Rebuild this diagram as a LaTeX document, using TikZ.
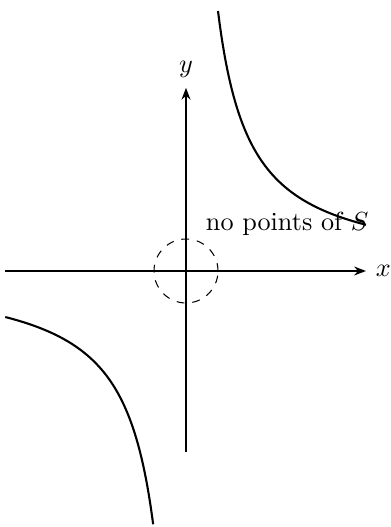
\documentclass[tikz,border=0pt]{standalone}
\usetikzlibrary{arrows.meta}
\tikzset{axis/.style={thick, -{Stealth[length=4.5pt]}},
  branch/.style={thick, samples=120, smooth}}

\begin{document}
\begin{tikzpicture}[x=0.537cm, y=0.537cm]
    % frame of the picture
    \useasboundingbox (-4.65,-6.4) rectangle (5.1,6.775);

    % axes
    \coordinate (O) at (0,0);
    \coordinate (xmin) at (-4.53,0);
    \coordinate (xmax) at (4.5,0);
    \coordinate (ymin) at (0,-4.53);
    \coordinate (ymax) at (0,4.58);
    \draw[axis] (xmin) -- (xmax) node[right] (xlab) {$x$};
    \draw[axis] (ymin) -- (ymax) node[above] (ylab) {$y$};

    % neighbourhood of the origin
    \draw[dashed] (O) circle (0.8);

    % the two branches of the hyperbola
    \draw[branch, domain=0.8:4.5] plot (\x, {5.2/\x});
    \draw[branch, domain=-4.52:-0.82] plot (\x, {5.2/\x});

    \node (note) at (2.53,1.18) {no points of $S$};
\end{tikzpicture}
\end{document}
